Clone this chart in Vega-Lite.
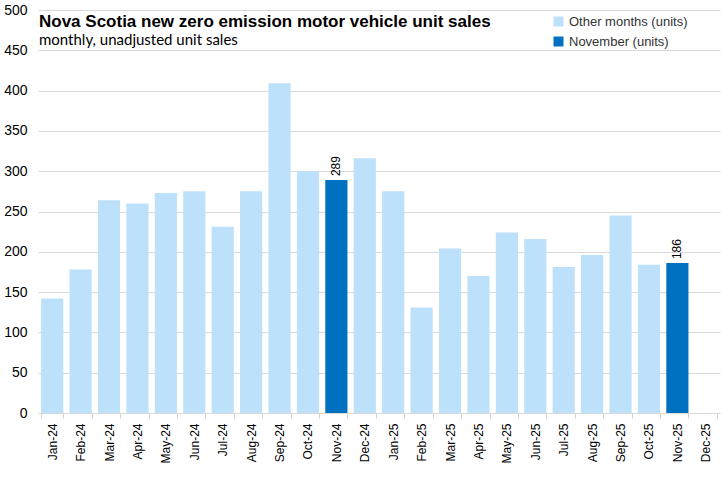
{
  "$schema": "https://vega.github.io/schema/vega-lite/v6.json",
  "width": 721,
  "height": 481,
  "autosize": {"type": "fit", "contains": "padding"},
  "padding": {"left": 3, "top": 3, "right": 1, "bottom": 17},
  "background": "white",
  "title": {
    "text": "Nova Scotia new zero emission motor vehicle unit sales",
    "subtitle": "monthly, unadjusted unit sales",
    "anchor": "start",
    "frame": "group",
    "orient": "top",
    "offset": -46,
    "dx": 1,
    "font": "Liberation Sans",
    "fontSize": 17,
    "fontWeight": "bold",
    "color": "#000000",
    "subtitleFont": "Lato",
    "subtitleFontSize": 15,
    "subtitleColor": "#000000",
    "subtitlePadding": 2
  },
  "data": {
    "values": [
      {"month": "Jan-24", "units": 142, "series": "Other months (units)"},
      {"month": "Feb-24", "units": 178, "series": "Other months (units)"},
      {"month": "Mar-24", "units": 264, "series": "Other months (units)"},
      {"month": "Apr-24", "units": 260, "series": "Other months (units)"},
      {"month": "May-24", "units": 273, "series": "Other months (units)"},
      {"month": "Jun-24", "units": 275, "series": "Other months (units)"},
      {"month": "Jul-24", "units": 231, "series": "Other months (units)"},
      {"month": "Aug-24", "units": 275, "series": "Other months (units)"},
      {"month": "Sep-24", "units": 409, "series": "Other months (units)"},
      {"month": "Oct-24", "units": 300, "series": "Other months (units)"},
      {"month": "Nov-24", "units": 289, "series": "November (units)"},
      {"month": "Dec-24", "units": 316, "series": "Other months (units)"},
      {"month": "Jan-25", "units": 275, "series": "Other months (units)"},
      {"month": "Feb-25", "units": 131, "series": "Other months (units)"},
      {"month": "Mar-25", "units": 204, "series": "Other months (units)"},
      {"month": "Apr-25", "units": 170, "series": "Other months (units)"},
      {"month": "May-25", "units": 224, "series": "Other months (units)"},
      {"month": "Jun-25", "units": 216, "series": "Other months (units)"},
      {"month": "Jul-25", "units": 181, "series": "Other months (units)"},
      {"month": "Aug-25", "units": 196, "series": "Other months (units)"},
      {"month": "Sep-25", "units": 245, "series": "Other months (units)"},
      {"month": "Oct-25", "units": 184, "series": "Other months (units)"},
      {"month": "Nov-25", "units": 186, "series": "November (units)"},
      {"month": "Dec-25", "units": null, "series": "Other months (units)"}
    ]
  },
  "encoding": {
    "x": {
      "field": "month",
      "type": "nominal",
      "sort": null,
      "scale": {
        "domain": ["Jan-24", "Feb-24", "Mar-24", "Apr-24", "May-24", "Jun-24", "Jul-24", "Aug-24", "Sep-24", "Oct-24", "Nov-24", "Dec-24", "Jan-25", "Feb-25", "Mar-25", "Apr-25", "May-25", "Jun-25", "Jul-25", "Aug-25", "Sep-25", "Oct-25", "Nov-25", "Dec-25"],
        "paddingInner": 0.22,
        "paddingOuter": 0.11
      },
      "axis": {
        "title": null,
        "labelAngle": -90,
        "labelFont": "Liberation Sans",
        "labelFontSize": 12,
        "labelColor": "#000000",
        "labelPadding": 5,
        "domainColor": "#d9d9d9",
        "tickColor": "#d9cfc4",
        "tickBand": "extent",
        "tickSize": 5,
        "grid": false
      }
    },
    "y": {
      "field": "units",
      "type": "quantitative",
      "scale": {"domain": [0, 500], "nice": false},
      "axis": {
        "title": null,
        "values": [0, 50, 100, 150, 200, 250, 300, 350, 400, 450, 500],
        "labelFont": "Liberation Sans",
        "labelFontSize": 14,
        "labelColor": "#000000",
        "labelPadding": 11,
        "domain": false,
        "ticks": false,
        "gridColor": "#d9d9d9",
        "gridWidth": 1
      }
    }
  },
  "layer": [
    {
      "mark": {"type": "bar"},
      "encoding": {
        "color": {
          "field": "series",
          "type": "nominal",
          "scale": {
            "domain": ["Other months (units)", "November (units)"],
            "range": ["#bde1fb", "#0070c0"]
          },
          "legend": {
            "title": null,
            "orient": "none",
            "legendX": 514,
            "legendY": 5,
            "symbolType": "square",
            "symbolSize": 100,
            "symbolStrokeWidth": 0,
            "labelFont": "Liberation Sans",
            "labelFontSize": 13,
            "labelColor": "#333333",
            "rowPadding": 6,
            "padding": 0
          }
        }
      }
    },
    {
      "transform": [{"filter": "datum.series === 'November (units)'"}],
      "mark": {
        "type": "text",
        "angle": -90,
        "align": "left",
        "baseline": "middle",
        "dx": 4,
        "font": "Liberation Sans",
        "fontSize": 12,
        "color": "#000000"
      },
      "encoding": {
        "text": {"field": "units", "type": "quantitative"}
      }
    }
  ],
  "config": {
    "view": {"stroke": null}
  }
}
